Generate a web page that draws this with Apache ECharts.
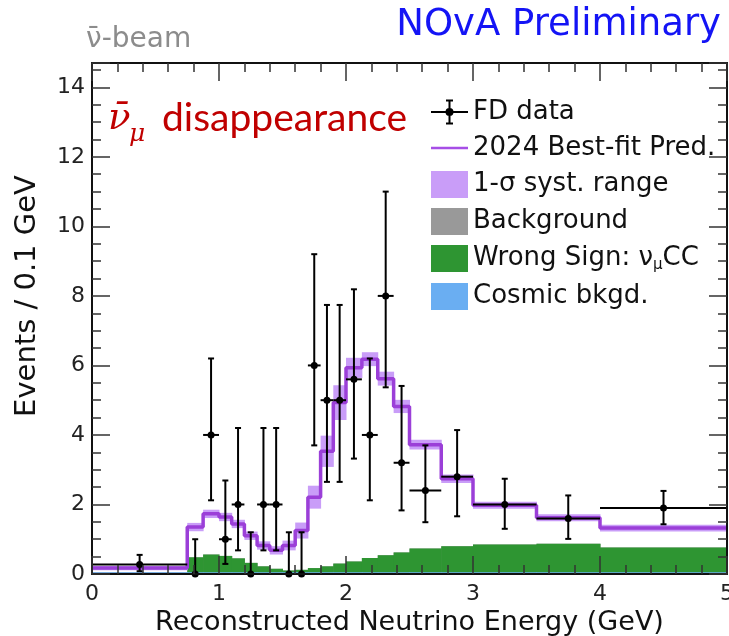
<!DOCTYPE html>
<html>
<head>
<meta charset="utf-8">
<title>NOvA antineutrino disappearance</title>
<script src="https://cdn.jsdelivr.net/npm/echarts@6/dist/echarts.min.js"></script>
<style>
html, body { margin: 0; padding: 0; background: #fff; }
#chart { width: 729px; height: 636px; }
</style>
</head>
<body>
<div id="chart"></div>
<script>
// bin edges, GeV
const binEdges = [0, 0.75, 0.875, 1.0, 1.1, 1.2, 1.3, 1.4, 1.5, 1.6, 1.7, 1.8, 1.9, 2.0,
  2.125, 2.25, 2.375, 2.5, 2.75, 3.0, 3.5, 4.0, 5.0]
// events / 0.1 GeV, one value per bin
const bestFit = [0.17, 1.35, 1.73, 1.64, 1.44, 1.10, 0.82, 0.68, 0.82, 1.25, 2.21, 3.53,
  4.93, 5.93, 6.18, 5.62, 4.82, 3.72, 2.74, 1.98, 1.62, 1.32]
const systErr = [0.06, 0.12, 0.12, 0.12, 0.12, 0.12, 0.12, 0.12, 0.14, 0.23, 0.33, 0.45,
  0.50, 0.29, 0.20, 0.20, 0.19, 0.14, 0.12, 0.10, 0.10, 0.10]
const background = [0.05, 0.48, 0.56, 0.52, 0.45, 0.32, 0.22, 0.15, 0.10, 0.12, 0.17, 0.22,
  0.30, 0.36, 0.46, 0.54, 0.62, 0.73, 0.80, 0.85, 0.87, 0.76]
const wrongSign = [0.02, 0.48, 0.56, 0.52, 0.45, 0.32, 0.22, 0.15, 0.10, 0.12, 0.17, 0.22,
  0.30, 0.36, 0.46, 0.54, 0.62, 0.73, 0.80, 0.85, 0.87, 0.76]
const cosmic = [0.05, 0.05, 0.05, 0.05, 0.05, 0.05, 0.05, 0.05, 0.05, 0.05, 0.05, 0.05,
  0.05, 0.05, 0.05, 0.05, 0.05, 0.05, 0.05, 0.05, 0.05, 0.05]

// FD data points
const dataE = [0.375, 0.8125, 0.9375, 1.05, 1.15, 1.25, 1.35, 1.45, 1.55, 1.65, 1.75, 1.85,
  1.95, 2.0625, 2.1875, 2.3125, 2.4375, 2.625, 2.875, 3.25, 3.75, 4.5]
const dataY = [0.27, 0, 4.0, 1.0, 2.0, 0, 2.0, 2.0, 0, 0, 6.0, 5.0, 5.0, 5.6, 4.0, 8.0,
  3.2, 2.4, 2.8, 2.0, 1.6, 1.9]
const dataLo = [0.08, 0, 2.12, 0.29, 0.68, 0, 0.68, 0.68, 0, 0, 3.7, 2.65, 2.65, 3.32,
  2.12, 5.37, 1.83, 1.49, 1.66, 1.30, 1.01, 1.43]
const dataHi = [0.55, 1.0, 6.2, 2.69, 4.2, 1.2, 4.2, 4.2, 1.2, 1.2, 9.2, 7.74, 7.74, 8.19,
  6.2, 11.0, 5.41, 3.7, 4.14, 2.74, 2.26, 2.39]

const xRange = [0, 5]
const yRange = [0, 14.7]

const WS_NAME = "Wrong Sign: νμCC"
const col = {
  line: "#9b3fd8",
  band: "#c99df8",
  bkg: "#999999",
  ws: "#2e9532",
  cosmic: "#6aaef2",
}

function binRects(lo, hi) {
  return bestFit.map((_, i) => [binEdges[i], binEdges[i + 1], lo[i], hi[i]])
}
const zeros = bestFit.map(() => 0)

function rectItem(params, api) {
  let p0 = api.coord([api.value(0), api.value(3)])
  let p1 = api.coord([api.value(1), api.value(2)])
  return {
    type: "rect",
    shape: { x: p0[0], y: p0[1], width: p1[0] - p0[0] + 0.5, height: p1[1] - p0[1] },
    style: api.style(),
  }
}

function errItem(params, api) {
  let c = api.coord([api.value(0), api.value(1)])
  let lo = api.coord([api.value(0), api.value(2)])
  let hi = api.coord([api.value(0), api.value(3)])
  let xl = api.coord([api.value(4), api.value(1)])
  let xr = api.coord([api.value(5), api.value(1)])
  let st = { stroke: "#000", lineWidth: 2 }
  let kids = [
    { type: "line", shape: { x1: xl[0], y1: c[1], x2: xr[0], y2: c[1] }, style: st },
    { type: "line", shape: { x1: c[0], y1: lo[1], x2: c[0], y2: hi[1] }, style: st },
    { type: "line", shape: { x1: c[0] - 3, y1: hi[1], x2: c[0] + 3, y2: hi[1] }, style: st },
    { type: "circle", shape: { cx: c[0], cy: c[1], r: 3.5 }, style: { fill: "#000" } },
  ]
  if (api.value(2) > 0) {
    kids.push({ type: "line", shape: { x1: c[0] - 3, y1: lo[1], x2: c[0] + 3, y2: lo[1] }, style: st })
  }
  return { type: "group", children: kids }
}

const predLine = bestFit.map((v, i) => [binEdges[i], v])
predLine.push([binEdges[binEdges.length - 1], bestFit[bestFit.length - 1]])

const fdData = dataE.map((e, i) => [e, dataY[i], dataLo[i], dataHi[i], binEdges[i], binEdges[i + 1]])

const tickFont = { fontFamily: "DejaVu Sans", fontSize: 22, color: "#222" }
function frameAxis(extra) {
  return Object.assign({
    type: "value",
    z: 10,
    axisLine: { show: true, onZero: false, lineStyle: { color: "#111", width: 2 } },
    axisTick: { show: true, inside: true, length: 18, lineStyle: { color: "#333", width: 1.5 } },
    minorTick: { show: true, length: 9, lineStyle: { color: "#333", width: 1.5 } },
    splitLine: { show: false },
  }, extra)
}

let myChart = echarts.init(document.getElementById("chart"))
myChart.setOption({
  animation: false,
  title: [
    {
      text: "NOvA Preliminary", right: 3, top: 2,
      textStyle: { color: "#1414f5", fontFamily: "DejaVu Sans", fontSize: 37, fontWeight: "normal" },
    },
    {
      text: "\u03BD\u0304-beam", left: 81, top: 21,
      textStyle: { color: "#8c8c8c", fontFamily: "DejaVu Sans", fontSize: 28, fontWeight: "normal" },
    },
  ],
  grid: { left: 92, right: 2, top: 63, bottom: 62, outerBoundsMode: "none" },
  legend: {
    orient: "vertical",
    left: 425,
    top: 94,
    itemWidth: 37,
    itemHeight: 27,
    itemGap: 10,
    textStyle: {
      fontFamily: "DejaVu Sans", fontSize: 26, color: "#111",
      rich: { sub: { fontFamily: "DejaVu Sans", fontSize: 15, color: "#111", padding: [14, 0, 0, 0] } },
    },
    formatter: (name) => (name === WS_NAME ? "Wrong Sign: ν{sub|μ}CC" : name),
    data: [
      {
        name: "FD data",
        icon: "path://M0,13.5H37M18.5,2V25M15,2H22M15,25H22M21.5,13.5A3,3 0 1 1 15.5,13.5A3,3 0 1 1 21.5,13.5Z",
        itemStyle: { color: "#000", borderColor: "#000", borderWidth: 2 },
      },
      {
        name: "2024 Best-fit Pred.",
        icon: "path://M0,0H37V2.5H0Z",
        itemHeight: 3,
        itemStyle: { color: "#a64ee6", borderWidth: 0 },
      },
      { name: "1-σ syst. range", icon: "rect" },
      { name: "Background", icon: "rect" },
      { name: WS_NAME, icon: "rect" },
      { name: "Cosmic bkgd.", icon: "rect" },
    ],
  },
  xAxis: [
    frameAxis({
      position: "bottom", min: xRange[0], max: xRange[1], interval: 1,
      minorTick: { show: true, splitNumber: 5, length: 9, lineStyle: { color: "#333", width: 1.5 } },
      axisLabel: Object.assign({ margin: 9 }, tickFont),
      name: "Reconstructed Neutrino Energy (GeV)",
      nameLocation: "middle",
      nameGap: 27,
      nameTextStyle: { fontFamily: "DejaVu Sans", fontSize: 27, color: "#111" },
    }),
    frameAxis({
      position: "top", min: xRange[0], max: xRange[1], interval: 1,
      minorTick: { show: true, splitNumber: 5, length: 9, lineStyle: { color: "#333", width: 1.5 } },
      axisLabel: { show: false },
    }),
  ],
  yAxis: [
    frameAxis({
      position: "left", min: yRange[0], max: yRange[1], interval: 2,
      minorTick: { show: true, splitNumber: 4, length: 9, lineStyle: { color: "#333", width: 1.5 } },
      axisLabel: Object.assign({ margin: 7, showMaxLabel: false }, tickFont),
    }),
    frameAxis({
      position: "right", min: yRange[0], max: yRange[1], interval: 2,
      minorTick: { show: true, splitNumber: 4, length: 9, lineStyle: { color: "#333", width: 1.5 } },
      axisLabel: { show: false },
    }),
  ],
  graphic: [
    {
      type: "text", x: 27, y: 296, rotation: Math.PI / 2,
      style: { text: "Events / 0.1 GeV", font: "29px 'DejaVu Sans'", fill: "#111", align: "center", verticalAlign: "middle" },
    },
    {
      type: "text", x: 108, y: 119,
      style: { text: "\u03BD\u0304", font: "italic 37px 'DejaVu Serif'", fill: "#c00000", verticalAlign: "middle" },
    },
    {
      type: "text", x: 129, y: 134,
      style: { text: "μ", font: "italic 25px 'DejaVu Serif'", fill: "#c00000", verticalAlign: "middle" },
    },
    {
      type: "text", x: 162, y: 118,
      style: { text: "disappearance", font: "39px Lato", fill: "#c00000", verticalAlign: "middle" },
    },
  ],
  series: [
    {
      name: "Background", type: "custom", renderItem: rectItem, z: 1,
      itemStyle: { color: col.bkg }, encode: { x: [0, 1], y: [2, 3] },
      data: binRects(zeros, background),
    },
    {
      name: WS_NAME, type: "custom", renderItem: rectItem, z: 2,
      itemStyle: { color: col.ws }, encode: { x: [0, 1], y: [2, 3] },
      data: binRects(zeros, wrongSign),
    },
    {
      name: "Cosmic bkgd.", type: "custom", renderItem: rectItem, z: 3,
      itemStyle: { color: col.cosmic }, encode: { x: [0, 1], y: [2, 3] },
      data: binRects(zeros, cosmic),
    },
    {
      name: "1-σ syst. range", type: "custom", renderItem: rectItem, z: 4,
      itemStyle: { color: col.band }, encode: { x: [0, 1], y: [2, 3] },
      data: binRects(bestFit.map((v, i) => v - systErr[i]), bestFit.map((v, i) => v + systErr[i])),
    },
    {
      name: "2024 Best-fit Pred.", type: "line", step: "end", symbol: "none", z: 5,
      itemStyle: { color: col.line },
      lineStyle: { color: col.line, width: 3.5 },
      data: predLine,
    },
    {
      name: "FD data", type: "custom", renderItem: errItem, z: 6,
      itemStyle: { color: "#000" }, encode: { x: [0, 4, 5], y: [1, 2, 3] },
      data: fdData,
    },
  ],
})
</script>
</body>
</html>
